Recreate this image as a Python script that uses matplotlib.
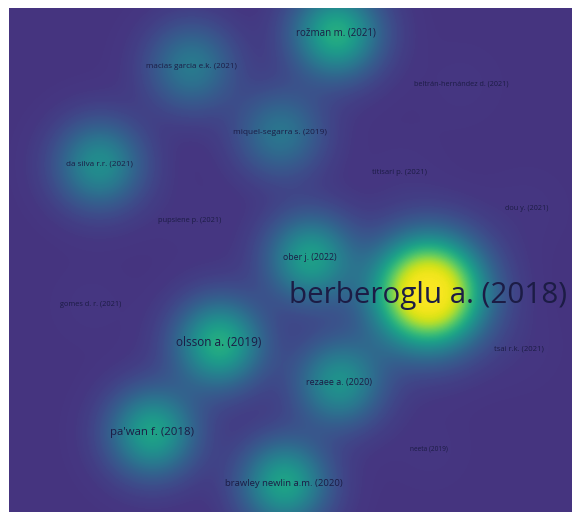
import matplotlib
matplotlib.use("Agg")
import matplotlib.pyplot as plt
import numpy as np
from matplotlib.colors import ListedColormap

# VOSviewer-style density map of authors (map coordinates in pixel units)
labels = [
    "rožman m. (2021)", "macias garcia e.k. (2021)", "beltrán-hernández d. (2021)",
    "miquel-segarra s. (2019)", "da silva r.r. (2021)", "titisari p. (2021)",
    "pupsiene p. (2021)", "dou y. (2021)", "ober j. (2022)", "berberoglu a. (2018)",
    "gomes d. r. (2021)", "olsson a. (2019)", "tsai r.k. (2021)", "rezaee a. (2020)",
    "pa'wan f. (2018)", "neeta (2019)", "brawley newlin a.m. (2020)",
]
map_x = [336, 191, 461, 280, 99, 400, 190, 527, 310, 428, 91, 219, 519, 339, 152, 429, 284]
map_y = [33, 66, 84, 133, 164, 172, 220, 208, 258, 292, 305, 343, 349, 382, 432, 449, 483]
weight = [0.55, 0.30, 0.01, 0.28, 0.40, 0.01, 0.01, 0.01, 0.48, 1.25,
          0.01, 0.55, 0.01, 0.42, 0.50, 0.01, 0.50]
font_pt = [7.0, 5.75, 5.2, 6.0, 5.9, 5.5, 5.3, 5.2, 6.3, 21.3,
           5.3, 8.5, 5.5, 6.5, 8.2, 4.7, 6.8]

W, H = 572, 512
X0, Y0 = 9, 8

fig = plt.figure(figsize=(W / 100, H / 100), dpi=100)
ax = fig.add_axes([X0 / W, 0, (W - X0) / W, (H - Y0) / H])

gx, gy = np.meshgrid(np.arange(X0, W, 1.0), np.arange(Y0, H, 1.0))
raw = np.zeros_like(gx)
for x, y, w in zip(map_x, map_y, weight):
    sigma = 30.0 + 8.0 * max(w - 0.5, 0)
    raw += w * np.exp(-((gx - x) ** 2 + (gy - y) ** 2) / (2 * sigma ** 2))
# soft saturation of the top end only
dens = np.where(raw > 0.75, 0.75 + 0.25 * np.tanh((raw - 0.75) / 0.25), raw)

base = plt.get_cmap("viridis")
cmap = ListedColormap(base(np.linspace(0.15, 1.0, 256)))
ax.imshow(dens, cmap=cmap, vmin=0, vmax=1, extent=(X0, W, H, Y0),
          interpolation="bilinear", aspect="auto")

text_y = [33, 66, 84, 133, 164, 172, 220, 208, 258, 296, 305, 343, 349, 382, 432, 449, 483]
for lab, x, y, fs in zip(labels, map_x, text_y, font_pt):
    ax.text(x, y, lab, ha="center", va="center", fontsize=fs,
            color="#1c1c45", family=["Open Sans", "DejaVu Sans"])

ax.set_xlim(X0, W)
ax.set_ylim(H, Y0)
ax.axis("off")

fig.savefig("out.png", dpi=100)
